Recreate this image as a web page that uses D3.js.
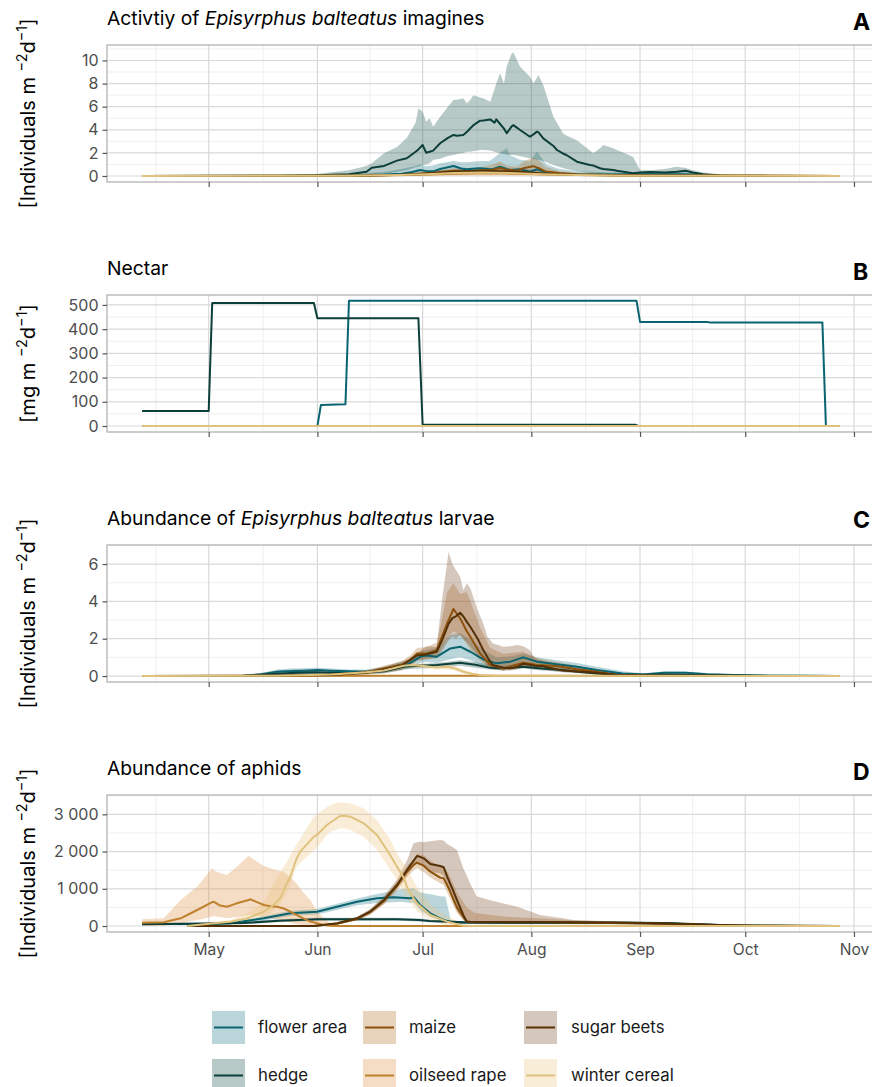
<!DOCTYPE html>
<html><head><meta charset="utf-8">
<script src="https://cdn.jsdelivr.net/npm/d3@7"></script>
<style>body{margin:0;background:#fff}svg{display:block;font-family:Inter,"Liberation Sans",Arial,sans-serif}</style>
</head><body><svg id="c" width="872" height="1087"></svg>
<script>
// ---------- categories & styles ----------
const habitats = ["flower area","hedge","maize","oilseed rape","sugar beets","winter cereal"];
const lineColors = ["#0a6470","#0c3f3a","#8c510a","#bf812d","#543005","#dfc27d"];
const fillColors = ["#1a7684","#145046","#b46d25","#d98f3a","#774421","#f0c27a"];
const monthTickLabels = ["May","Jun","Jul","Aug","Sep","Oct","Nov"];

// ---------- data: [day since May 1, lower, mean, upper] ----------
// Panel A: activity of imagines
const A_flower = [[-19,0,0,0],[20,0,0.02,0.05],[40,0,0.05,0.15],[50,0.05,0.12,0.35],[55,0.1,0.2,0.6],[58,0.15,0.35,0.8],[60.3,0.25,0.52,1.0],[62,0.2,0.42,0.85],[64,0.2,0.4,0.9],[66,0.3,0.6,1.1],[69.8,0.4,0.87,1.3],[72,0.35,0.65,1.2],[73.6,0.3,0.58,1.2],[76,0.35,0.65,1.25],[77.4,0.35,0.67,1.3],[80,0.3,0.6,1.3],[81,0.3,0.58,1.5],[83,0.35,0.8,2.0],[85,0.3,0.6,2.4],[86,0.25,0.52,1.8],[88.8,0.3,0.58,1.4],[91.6,0.15,0.38,1.3],[93.6,0.3,0.58,2.1],[96.3,0.1,0.3,1.0],[100,0.05,0.2,0.6],[105,0.05,0.15,0.4],[115,0.05,0.12,0.3],[125,0.05,0.15,0.35],[135,0.05,0.15,0.3],[145,0,0.05,0.1],[160,0,0.01,0.02],[180,0,0,0]];
const A_hedge = [[-19,0,0.01,0.02],[20,0,0.03,0.08],[30,0,0.06,0.15],[40,0.02,0.15,0.5],[45,0.05,0.37,0.87],[46.5,0.1,0.72,1.1],[50,0.2,0.87,1.96],[53.7,0.35,1.33,2.5],[56.5,0.5,1.53,3.3],[59,0.75,2.1,4.6],[59.8,0.8,2.3,5.86],[61,0.95,2.68,5.57],[62,1.0,2.02,4.7],[63,1.1,2.1,5.0],[64,1.39,2.2,4.27],[66,1.5,2.83,5.13],[68,1.7,3.26,5.9],[69.8,1.82,3.55,6.58],[70.8,1.9,3.49,6.6],[72.6,2.0,3.55,6.73],[73.6,2.1,3.8,6.29],[74.6,2.1,4.13,6.6],[75.5,2.15,4.4,7.0],[77.4,2.25,4.79,6.8],[78.3,2.25,4.8,6.73],[80.3,2.2,4.9,6.43],[81.5,2.1,4.61,7.5],[82,2.05,4.9,8.0],[83.1,1.96,4.5,8.89],[84.2,1.9,4.1,8.0],[85,1.85,3.7,9.5],[86.4,1.82,4.3,10.6],[86.9,1.82,4.4,10.7],[88.8,1.7,3.98,9.46],[91.6,1.53,3.4,8.6],[92.6,1.5,3.6,8.0],[93.6,1.4,3.84,8.5],[94,1.4,3.8,8.74],[95.4,1.3,3.26,7.88],[98.3,0.95,2.6,5.13],[99.3,0.85,2.25,4.6],[101,0.7,1.95,3.7],[102,0.6,1.82,3.5],[105,0.4,1.24,3.1],[108.7,0.25,0.95,2.2],[109.7,0.23,0.9,1.96],[111.6,0.15,0.67,2.4],[112.5,0.12,0.6,2.68],[115.4,0.08,0.52,2.4],[116.4,0.05,0.45,2.25],[121,0.02,0.23,1.67],[123,0.02,0.3,0.5],[126,0.05,0.35,0.5],[130,0.1,0.3,0.6],[133.5,0.1,0.37,0.8],[136,0.08,0.45,0.7],[138,0.05,0.3,0.5],[141,0.02,0.15,0.3],[146,0,0.02,0.15],[155,0,0.01,0.02],[180,0,0,0]];
const A_maize = [[-19,0,0,0],[40,0,0.02,0.05],[55,0.02,0.1,0.2],[60,0.05,0.2,0.35],[65,0.1,0.3,0.45],[69.8,0.2,0.45,0.7],[74,0.2,0.4,0.6],[78,0.25,0.5,0.8],[81,0.25,0.55,1.0],[83,0.3,0.7,1.25],[85,0.25,0.55,0.9],[88,0.2,0.45,0.8],[90,0.3,0.7,1.3],[92.5,0.4,0.85,1.6],[94,0.3,0.7,1.4],[96,0.2,0.4,0.8],[100,0.1,0.25,0.4],[105,0.05,0.15,0.25],[115,0.02,0.08,0.15],[130,0,0.03,0.05],[180,0,0,0]];
const A_oilseed = [[-19,0,0,0],[45,0,0.02,0.05],[60,0.02,0.1,0.2],[70,0.05,0.2,0.35],[80,0.05,0.25,0.4],[90,0.05,0.2,0.35],[100,0.02,0.1,0.2],[115,0,0.05,0.1],[180,0,0,0]];
const A_sugar = [[-19,0,0,0],[45,0,0.02,0.05],[60,0.05,0.15,0.3],[66,0.1,0.3,0.5],[72,0.15,0.4,0.6],[78,0.15,0.45,0.7],[84,0.15,0.4,0.65],[90,0.1,0.35,0.6],[96,0.05,0.2,0.4],[105,0.02,0.1,0.2],[120,0,0.04,0.08],[180,0,0,0]];
const A_winter = [[-19,0,0,0],[40,0,0.02,0.04],[55,0.02,0.08,0.15],[62,0.05,0.15,0.3],[70,0.08,0.25,0.4],[78,0.1,0.3,0.45],[86,0.1,0.25,0.4],[95,0.05,0.15,0.3],[105,0.02,0.08,0.15],[120,0,0.03,0.05],[180,0,0,0]];

// Panel B: nectar [day, value]
const B_flower = [[-19,0],[31,0],[32,87],[39,90],[40,517],[122,517],[123,430],[142,430],[143,427],[175,427],[176,0],[180,0]];
const B_hedge = [[-19,62],[0,62],[1,508],[30,508],[31,445],[59.8,445],[61,5],[121.6,5],[122.5,0],[180,0]];
const B_maize = [[-19,0],[180,0]];
const B_oilseed = [[-19,0],[180,0]];
const B_sugar = [[-19,0],[180,0]];
const B_winter = [[-19,0],[180,0]];

// Panel C: larvae
const C_flower = [[-19,0,0,0],[0,0,0,0.01],[10,0,0.02,0.05],[15,0.02,0.08,0.15],[19.5,0.1,0.23,0.35],[23,0.12,0.25,0.4],[27,0.1,0.28,0.42],[31,0.15,0.32,0.45],[35,0.12,0.28,0.4],[40,0.1,0.25,0.35],[45,0.1,0.23,0.35],[50,0.2,0.35,0.5],[54.6,0.35,0.59,0.75],[57,0.4,0.65,0.85],[60.3,0.7,1.03,1.3],[62,0.75,1.1,1.4],[65,0.7,1.03,1.5],[68.9,0.9,1.48,2.2],[71.7,1.0,1.57,2.3],[74.6,0.85,1.3,1.95],[78.3,0.55,0.89,1.4],[82,0.45,0.68,1.0],[86,0.5,0.77,1.05],[89.7,0.7,1.0,1.2],[93.6,0.5,0.77,1.0],[99.3,0.4,0.63,0.85],[105,0.3,0.5,0.7],[110.7,0.15,0.32,0.5],[118,0.05,0.14,0.25],[124,0.03,0.08,0.15],[130,0.08,0.18,0.25],[136,0.07,0.17,0.24],[142,0.04,0.1,0.16],[150,0.02,0.05,0.08],[160,0,0.02,0.04],[170,0,0.01,0.01],[180,0,0,0]];
const C_hedge = [[-19,0,0,0],[10,0,0.02,0.04],[20,0.05,0.12,0.3],[25,0.08,0.18,0.35],[30,0.1,0.2,0.3],[40,0.1,0.15,0.25],[50,0.15,0.25,0.35],[55.6,0.35,0.5,0.6],[60,0.4,0.55,0.65],[65,0.45,0.59,0.7],[71.7,0.55,0.71,0.85],[76,0.45,0.6,0.75],[80,0.35,0.45,0.6],[84,0.3,0.41,0.55],[89.7,0.4,0.5,0.62],[95,0.3,0.4,0.5],[100.9,0.22,0.32,0.42],[106,0.15,0.22,0.3],[110.7,0.08,0.14,0.2],[118,0.03,0.06,0.1],[130,0.03,0.08,0.12],[140,0.02,0.05,0.08],[155,0,0.02,0.03],[180,0,0,0]];
const C_maize = [[-19,0,0,0],[20,0,0.02,0.05],[35,0.02,0.08,0.15],[45,0.1,0.2,0.3],[50,0.2,0.4,0.55],[55,0.35,0.6,0.8],[57.5,0.55,0.86,1.1],[59.4,0.85,1.21,1.5],[62.2,0.9,1.21,1.55],[65,1.0,1.39,1.8],[66.5,1.5,2.1,3.0],[68,2.0,2.82,4.5],[69.8,2.4,3.59,4.97],[71.7,2.2,3.09,4.4],[73.6,1.7,2.4,4.5],[74.6,1.4,2.1,4.0],[77.4,0.8,1.21,2.6],[80.3,0.4,0.59,1.5],[84,0.3,0.41,1.2],[89.7,0.5,0.71,1.3],[93.6,0.4,0.59,0.95],[99.3,0.4,0.54,0.75],[105,0.25,0.36,0.55],[110.7,0.15,0.23,0.35],[116.4,0.02,0.05,0.1],[125,0,0.02,0.04],[180,0,0,0]];
const C_oilseed = [[-19,0,0,0],[50,0,0.01,0.02],[65,0,0.02,0.04],[80,0,0.01,0.02],[180,0,0,0]];
const C_sugar = [[-19,0,0,0],[20,0,0.02,0.05],[35,0.02,0.06,0.12],[45,0.08,0.18,0.3],[50,0.15,0.35,0.5],[55,0.3,0.55,0.75],[59.4,0.8,1.1,1.2],[62,0.9,1.15,1.6],[65,0.95,1.3,1.57],[66.5,1.3,1.9,4.0],[68.4,1.9,2.8,6.66],[69.5,2.1,3.1,6.0],[70.5,2.0,3.2,5.68],[71.7,2.2,3.39,5.32],[72.6,2.0,3.2,4.6],[73.6,1.8,2.9,4.97],[74.6,1.6,2.64,4.7],[76.7,1.1,2.0,3.54],[78.3,0.8,1.39,2.8],[79.5,0.5,1.0,2.1],[81,0.35,0.59,1.75],[84,0.3,0.45,1.57],[86,0.3,0.41,1.6],[88,0.35,0.5,1.66],[89.7,0.45,0.66,1.6],[91.5,0.4,0.6,1.39],[93,0.35,0.55,0.96],[95,0.35,0.54,0.85],[100.9,0.2,0.29,0.55],[106.6,0.15,0.23,0.4],[110.7,0.1,0.17,0.3],[116.4,0.02,0.05,0.12],[125,0,0.02,0.04],[180,0,0,0]];
const C_winter = [[-19,0,0,0],[20,0,0.02,0.04],[35,0.02,0.08,0.15],[45,0.1,0.2,0.3],[50,0.2,0.3,0.4],[55.6,0.4,0.55,0.65],[58,0.45,0.59,0.7],[62,0.4,0.52,0.65],[65,0.35,0.45,0.6],[68,0.35,0.5,0.62],[70,0.3,0.42,0.55],[72.6,0.15,0.23,0.35],[75,0.06,0.12,0.2],[77.4,0.02,0.05,0.1],[82,0,0.01,0.02],[180,0,0,0]];

// Panel D: aphids
const D_flower = [[-19,30,54,80],[0,30,55,80],[6.2,45,72,100],[15.7,150,206,260],[23.3,270,340,410],[30.9,310,384,460],[36.6,430,519,600],[42.3,560,653,740],[48,620,743,860],[52.7,640,770,950],[55,650,760,990],[57.5,620,743,1000],[58.4,640,780,1011],[60.3,420,564,900],[63.2,250,340,850],[66,140,206,800],[67.5,100,150,790],[69,70,116,161],[72,60,95,130],[80,50,85,120],[95,50,85,120],[110,50,80,115],[120,50,80,110],[130,40,70,100],[140,20,40,60],[150,5,15,25],[160,0,5,10],[170,0,2,4],[180,0,0,0]];
const D_hedge = [[-19,30,50,70],[10,50,80,110],[20,100,140,180],[31,140,180,220],[45,140,180,220],[53.7,140,180,220],[60,120,160,200],[63,100,134,170],[72.6,70,99,130],[85,60,90,120],[100,60,90,120],[115,60,90,120],[130,50,80,110],[140,25,45,65],[150,8,15,25],[160,0,5,10],[180,0,0,0]];
const D_maize = [[-6,0,0,0],[30,0,0,0],[36.6,40,60,80],[42.3,150,190,230],[46,300,370,440],[50,580,680,780],[53.7,950,1080,1200],[56.5,1300,1450,1600],[58.5,1500,1650,1800],[59.4,1550,1700,1950],[61.3,1450,1620,1900],[63.2,1300,1459,1750],[66,1150,1300,1600],[67,1100,1280,1580],[68.5,800,1000,1400],[70.8,350,500,900],[73.6,70,116,500],[76,60,100,350],[85,60,100,250],[95,60,100,200],[105,50,90,150],[115,50,80,120],[125,40,70,100],[135,30,50,70],[145,10,20,35],[155,0,5,10],[180,0,0,0]];
const D_oilseed = [[-19,0,89,180],[-12.8,0,99,206],[-8,72,206,698],[-3.3,161,430,1056],[1,250,640,1550],[1.4,269,653,1500],[3,240,560,1432],[5.2,206,519,1370],[8,240,609,1593],[11.4,290,700,1889],[11.9,295,717,1850],[13.8,270,640,1727],[15.7,230,564,1620],[17.6,200,530,1550],[19.5,180,519,1500],[21.4,150,470,1459],[23.3,89,384,1300],[25,50,300,1146],[27,20,206,900],[29,5,120,698],[30.9,0,72,400],[32.8,0,30,206],[34.7,0,5,72],[37,0,0,10],[180,0,0,0]];
const D_sugar = [[-6,0,0,0],[30,0,0,0],[36.6,50,72,95],[42.3,160,206,250],[46,310,384,460],[50,600,698,800],[53.7,1000,1101,1250],[56.5,1350,1504,1750],[58.4,1600,1750,2221],[59.4,1700,1880,2250],[60.5,1650,1850,2265],[61.3,1600,1818,2250],[63.2,1450,1665,2280],[66,1414,1612,2310],[67,1350,1580,2300],[68,1100,1324,2200],[69.5,700,1000,2120],[70.8,400,698,2041],[72.6,150,300,1550],[73.6,80,116,1350],[74.5,75,112,1150],[76.4,70,110,800],[80,70,110,700],[82,70,110,653],[88,70,110,519],[94.5,70,108,295],[101,65,102,206],[104,60,100,161],[115,55,95,130],[125,45,80,110],[135,30,55,75],[145,10,25,40],[155,0,6,12],[180,0,0,0]];
const D_winter = [[-6,0,0,0],[1.4,40,72,116],[6.2,80,116,160],[11,150,206,340],[15.7,250,384,650],[17.6,350,500,967],[19.5,500,653,1300],[20.4,600,750,1450],[22.3,900,1150,1727],[23.3,1100,1324,1900],[25,1593,1800,2176],[26.1,1700,1996,2350],[30,2041,2399,2936],[30.9,2100,2450,3000],[33.7,2450,2713,3200],[34.7,2533,2780,3250],[36.6,2600,2900,3312],[37.5,2624,2955,3320],[38.5,2624,2960,3310],[40.4,2580,2936,3295],[44.2,2399,2758,3160],[48,2041,2444,2847],[50.8,1650,2041,2450],[51.8,1500,1900,2310],[53.7,1235,1593,1950],[55.6,900,1300,1684],[56.5,750,1056,1550],[58.4,519,750,1200],[59.4,400,609,1056],[63.2,161,295,564],[68,0,116,251],[72.6,0,10,72],[76,0,0,5],[180,0,0,0]];

// ---------- axis ticks ----------
const A_ticks = [0,2,4,6,8,10], A_minor = [1,3,5,7,9,11];
const B_ticks = [0,100,200,300,400,500], B_minor = [50,150,250,350,450];
const C_ticks = [0,2,4,6], C_minor = [1,3,5,7];
const D_ticks = [0,1000,2000,3000], D_minor = [500,1500,2500,3500];

// ---------- layout ----------
const FONT = 'Inter,"Liberation Sans",Arial,sans-serif';
const svg = d3.select("#c");
const left = 107, right = 875, panelH = 137;
const base = Date.UTC(2021,4,1);
const toDate = d => new Date(base + d*864e5);
const x = d3.scaleUtc().domain([toDate(-29), toDate(190)]).range([left, right]);
const months = d3.utcMonth.range(toDate(-29), toDate(191));
const allMonths = d3.utcMonth.range(new Date(Date.UTC(2021,3,1)), new Date(Date.UTC(2021,11,1)));
const minorX = d3.pairs(allMonths).map(([a,b]) => new Date((+a + +b)/2)).filter(d => d >= x.domain()[0] && d <= x.domain()[1]);

const spaceFmt = v => d3.format(",")(v).replace(/,/g, " ");

const panels = [
  {top:45, dom:[-0.52,11.34], ticks:A_ticks, minor:A_minor, fmt:String, letter:"A",
   title:[["Activtiy of ",false],["Episyrphus balteatus",true],[" imagines",false]], unit:"[Individuals m",
   data:[A_flower,A_hedge,A_maize,A_oilseed,A_sugar,A_winter], ribbon:true, titleY:25, letterY:30},
  {top:295, dom:[-24.8,541], ticks:B_ticks, minor:B_minor, fmt:String, letter:"B",
   title:[["Nectar",false]], unit:"[mg m",
   data:[B_flower,B_hedge,B_maize,B_oilseed,B_sugar,B_winter].map(s => s.map(p => [p[0],p[1],p[1],p[1]])), ribbon:false, titleY:275, letterY:280},
  {top:545, dom:[-0.32,7.02], ticks:C_ticks, minor:C_minor, fmt:String, letter:"C",
   title:[["Abundance of ",false],["Episyrphus balteatus",true],[" larvae",false]], unit:"[Individuals m",
   data:[C_flower,C_hedge,C_maize,C_oilseed,C_sugar,C_winter], ribbon:true, titleY:524.5, letterY:528},
  {top:795, dom:[-161,3519], ticks:D_ticks, minor:D_minor, fmt:spaceFmt, letter:"D",
   title:[["Abundance of aphids",false]], unit:"[Individuals m",
   data:[D_flower,D_hedge,D_maize,D_oilseed,D_sugar,D_winter], ribbon:true, titleY:775, letterY:780, xlabels:true}
];

const defs = svg.append("defs");

panels.forEach((p, pi) => {
  const top = p.top, bottom = top + panelH;
  const y = d3.scaleLinear().domain(p.dom).range([bottom, top]);
  const g = svg.append("g");
  const clipId = "clip" + pi;
  defs.append("clipPath").attr("id", clipId).append("rect")
    .attr("x", left).attr("y", top).attr("width", right-left).attr("height", panelH);

  // grid
  const grid = g.append("g");
  p.minor.filter(v => v >= p.dom[0] && v <= p.dom[1]).forEach(v => grid.append("line")
    .attr("x1", left).attr("x2", right).attr("y1", y(v)).attr("y2", y(v))
    .attr("stroke", "#ebebeb").attr("stroke-width", 0.8));
  minorX.forEach(d => grid.append("line").attr("x1", x(d)).attr("x2", x(d)).attr("y1", top).attr("y2", bottom)
    .attr("stroke", "#ebebeb").attr("stroke-width", 0.8));
  p.ticks.forEach(v => grid.append("line")
    .attr("x1", left).attr("x2", right).attr("y1", y(v)).attr("y2", y(v))
    .attr("stroke", "#d9d9d9").attr("stroke-width", 1.2));
  months.forEach(d => grid.append("line").attr("x1", x(d)).attr("x2", x(d)).attr("y1", top).attr("y2", bottom)
    .attr("stroke", "#d9d9d9").attr("stroke-width", 1.2));

  const plot = g.append("g").attr("clip-path", `url(#${clipId})`);
  const area = d3.area().x(d => x(toDate(d[0]))).y0(d => y(d[1])).y1(d => y(d[3]));
  const line = d3.line().x(d => x(toDate(d[0]))).y(d => y(d[2]));
  if (p.ribbon) {
    p.data.forEach((s, i) => plot.append("path").attr("d", area(s))
      .attr("fill", fillColors[i]).attr("fill-opacity", 0.3).attr("stroke", "none"));
  }
  p.data.forEach((s, i) => plot.append("path").attr("d", line(s))
    .attr("fill", "none").attr("stroke", lineColors[i]).attr("stroke-width", 2)
    .attr("stroke-linejoin", "round"));

  // border
  g.append("rect").attr("x", left).attr("y", top).attr("width", right-left).attr("height", panelH)
    .attr("fill", "none").attr("stroke", "#b3b3b3").attr("stroke-width", 1.3);

  // y axis
  const ya = g.append("g").attr("transform", `translate(${left},0)`)
    .call(d3.axisLeft(y).tickValues(p.ticks).tickFormat(p.fmt).tickSize(4.5).tickPadding(4));
  ya.select(".domain").remove();
  ya.selectAll(".tick line").attr("stroke", "#555").attr("stroke-width", 1.2);
  ya.selectAll(".tick text").attr("fill", "#4d4d4d").style("font-size", "16px").style("font-family", FONT);

  // x axis
  const xa = g.append("g").attr("transform", `translate(0,${bottom})`)
    .call(d3.axisBottom(x).tickValues(months).tickSize(5).tickPadding(7)
      .tickFormat((d,i) => p.xlabels ? monthTickLabels[i] : ""));
  xa.select(".domain").remove();
  xa.selectAll(".tick line").attr("stroke", "#555").attr("stroke-width", 1.2);
  xa.selectAll(".tick text").attr("fill", "#4d4d4d").style("font-size", "15.6px").style("font-family", FONT);

  // title
  const t = svg.append("text").attr("x", left).attr("y", p.titleY)
    .attr("font-size", 19.3).attr("fill", "#000");
  p.title.forEach(([s, it]) => t.append("tspan").text(s).attr("font-style", it ? "italic" : "normal"));

  // panel letter
  svg.append("text").attr("x", 853).attr("y", p.letterY).attr("font-size", 23).attr("font-weight", "bold")
    .attr("fill", "#000").text(p.letter);

  // y title
  const yt = svg.append("text").attr("transform", `translate(35,${(top+bottom)/2}) rotate(-90)`)
    .attr("text-anchor", "middle").attr("font-size", 20).attr("fill", "#000");
  yt.append("tspan").text(p.unit + " ");
  yt.append("tspan").attr("dy", -8).attr("font-size", 14.5).text("\u22122");
  yt.append("tspan").attr("dy", 8).text("d");
  yt.append("tspan").attr("dy", -8).attr("font-size", 14.5).text("\u22121");
  yt.append("tspan").attr("dy", 8).text("]");
});

// ---------- legend ----------
const legCols = [212, 363, 524], legRows = [1011, 1059], labelX = [258, 409, 571];
habitats.forEach((h, i) => {
  const c = Math.floor(i/2), r = i % 2;
  const kx = legCols[c], ky = legRows[r];
  svg.append("rect").attr("x", kx).attr("y", ky).attr("width", 33).attr("height", 33)
    .attr("fill", fillColors[i]).attr("fill-opacity", 0.3);
  svg.append("line").attr("x1", kx+2).attr("x2", kx+31).attr("y1", ky+16.5).attr("y2", ky+16.5)
    .attr("stroke", lineColors[i]).attr("stroke-width", 2);
  svg.append("text").attr("x", labelX[c]).attr("y", ky+16.5).attr("dy", "0.35em")
    .attr("font-size", 16.8).attr("fill", "#1a1a1a").text(h);
});
</script></body></html>
